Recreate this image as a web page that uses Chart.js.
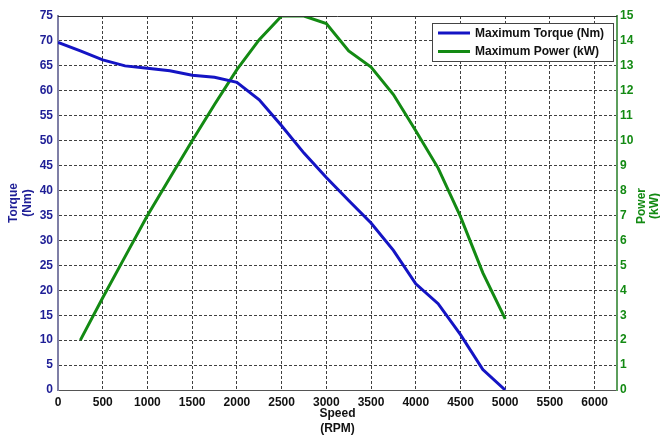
<!DOCTYPE html>
<html>
<head>
<meta charset="utf-8">
<script src="https://cdn.jsdelivr.net/npm/chart.js@4.4.0/dist/chart.umd.min.js"></script>
<style>
html,body{margin:0;padding:0;background:#fff;}
#wrap{width:660px;height:436px;position:relative;}
</style>
</head>
<body>
<div id="wrap"><canvas id="c" width="660" height="436"></canvas></div>
<script>
// Data
const speedTorque = [0,250,500,750,1000,1250,1500,1750,2000,2250,2500,2750,3000,3250,3500,3750,4000,4250,4500,4750,5000];
const torqueNm    = [69.7,68.0,66.2,65.0,64.5,64.0,63.1,62.7,61.7,58.2,53.0,47.5,42.6,38.0,33.5,28.0,21.3,17.3,11.1,4.1,0];
const speedPower  = [250,500,750,1000,1250,1500,1750,2000,2250,2500,2750,3000,3250,3500,3750,4000,4250,4500,4750,5000];
const powerKW     = [2.0,3.7,5.35,7.0,8.5,10.0,11.45,12.85,14.05,15.0,15.0,14.7,13.6,12.95,11.85,10.4,8.9,6.95,4.7,2.85];
const xTickValues = [0,500,1000,1500,2000,2500,3000,3500,4000,4500,5000,5500,6000];
const xRange = {min:0, max:6250};
const torqueTicks = {min:0, max:75, step:5};
const powerTicks = {min:0, max:15, step:1};
const seriesLabels = ['Maximum Torque (Nm)','Maximum Power (kW)'];

const BLUE = '#1414c4';
const GREEN = '#138a13';
const FONT = "'Liberation Sans', Arial, sans-serif";

const toPts = (xs, ys) => xs.map((x,i)=>({x:x, y:ys[i]}));

const framePlugin = {
  id:'frame',
  afterDatasetsDraw(chart){
    const ctx = chart.ctx, a = chart.chartArea;
    ctx.save();
    // top border
    ctx.strokeStyle = '#333';
    ctx.lineWidth = 1;
    ctx.beginPath();
    ctx.moveTo(a.left, a.top + 0.5);
    ctx.lineTo(a.right, a.top + 0.5);
    ctx.stroke();
    // legend box
    const bx = a.right - 185, by = a.top + 7, bw = 181, bh = 38;
    ctx.fillStyle = '#fff';
    ctx.fillRect(bx, by, bw, bh);
    ctx.strokeStyle = '#444';
    ctx.strokeRect(bx + 0.5, by + 0.5, bw, bh);
    chart.data.datasets.forEach((ds, i) => {
      const y = by + 10 + i * 18.5;
      ctx.strokeStyle = ds.borderColor;
      ctx.lineWidth = 3;
      ctx.beginPath();
      ctx.moveTo(bx + 6, y);
      ctx.lineTo(bx + 38, y);
      ctx.stroke();
      ctx.fillStyle = '#111';
      ctx.font = 'bold 12px ' + FONT;
      ctx.textBaseline = 'middle';
      ctx.textAlign = 'left';
      ctx.fillText(ds.label, bx + 43, y + 0.5);
    });
    // right axis title (rotated like the left one)
    ctx.fillStyle = GREEN;
    ctx.font = 'bold 12px ' + FONT;
    ctx.textAlign = 'center';
    ctx.textBaseline = 'middle';
    const cy = (a.top + a.bottom) / 2 + 3;
    ctx.translate(642, cy);
    ctx.rotate(-Math.PI/2);
    ctx.fillText('Power', 0, 0);
    ctx.fillText('(kW)', 0, 13);
    ctx.restore();
  }
};

new Chart(document.getElementById('c'), {
  type:'line',
  data:{
    datasets:[
      {label:seriesLabels[0], data:toPts(speedTorque, torqueNm), yAxisID:'y',
       borderColor:BLUE, backgroundColor:BLUE, borderWidth:3, pointRadius:0, tension:0, fill:false},
      {label:seriesLabels[1], data:toPts(speedPower, powerKW), yAxisID:'y1',
       borderColor:GREEN, backgroundColor:GREEN, borderWidth:3, pointRadius:0, tension:0, fill:false}
    ]
  },
  options:{
    responsive:false,
    animation:false,
    devicePixelRatio:1,
    layout:{padding:{top:16, left:0, right:0, bottom:0}},
    plugins:{legend:{display:false}, tooltip:{enabled:false}},
    scales:{
      x:{
        type:'linear', min:xRange.min, max:xRange.max,
        afterFit(s){ s.height = 46; },
        afterBuildTicks(s){ s.ticks = xTickValues.map(v => ({value:v})); },
        ticks:{color:'#111', padding:5, callback:(v)=>String(v),
               font:{family:FONT, size:12, weight:'bold'}, maxRotation:0, autoSkip:false},
        grid:{color:'rgba(0,0,0,0.75)', lineWidth:1, drawTicks:false},
        border:{display:true, color:'#555', width:1, dash:[3,2]},
        title:{display:true, text:['Speed','(RPM)'], color:'#111',
               font:{family:FONT, size:12, weight:'bold', lineHeight:1.25}, padding:{top:0,bottom:0}}
      },
      y:{
        type:'linear', position:'left', min:torqueTicks.min, max:torqueTicks.max,
        afterFit(s){ s.width = 58; },
        ticks:{stepSize:torqueTicks.step, color:'#1e1e96', padding:5,
               font:{family:FONT, size:12, weight:'bold'}},
        grid:{color:'rgba(0,0,0,0.75)', lineWidth:1, drawTicks:false},
        border:{display:true, color:'#7f7fa6', width:2, dash:[3,2]},
        title:{display:true, text:['Torque','(Nm)'], color:'#1e1e96',
               font:{family:FONT, size:12, weight:'bold', lineHeight:1.2}, padding:{top:6,bottom:0}}
      },
      y1:{
        type:'linear', position:'right', min:powerTicks.min, max:powerTicks.max,
        afterFit(s){ s.width = 43; },
        ticks:{stepSize:powerTicks.step, color:GREEN, padding:3,
               font:{family:FONT, size:12, weight:'bold'}},
        grid:{drawOnChartArea:false, drawTicks:false},
        border:{display:true, color:'#5c9e5c', width:2},
        title:{display:false}
      }
    }
  },
  plugins:[framePlugin]
});
</script>
</body>
</html>
